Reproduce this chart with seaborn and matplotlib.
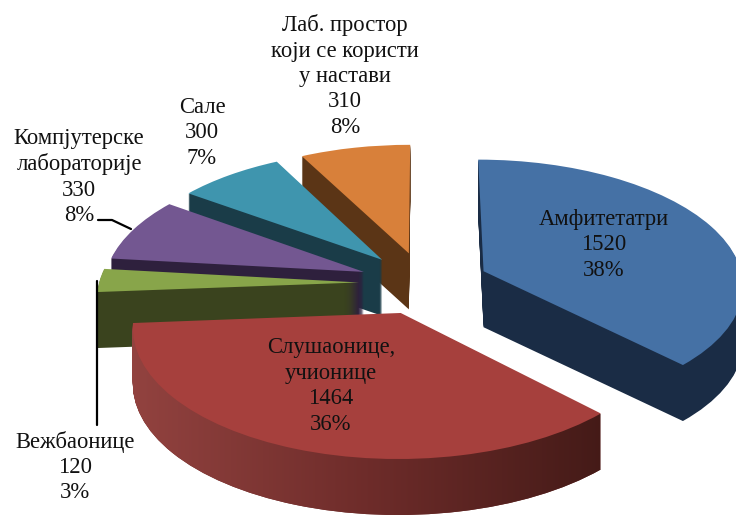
import matplotlib
matplotlib.use("Agg")
import numpy as np
import matplotlib.pyplot as plt
import seaborn as sns
from matplotlib.colors import LinearSegmentedColormap
from matplotlib.path import Path
from matplotlib.transforms import Affine2D, IdentityTransform, Transform

names = ["Амфитетатри", "Слушаонице,\nучионице", "Вежбаонице",
         "Компјутерске\nлабораторије", "Сале",
         "Лаб. простор\nкоји се користи\nу настави"]
values = [1520, 1464, 120, 330, 300, 310]
percents = [38, 36, 3, 8, 7, 8]

top_colors = ["#4571a5", "#a6403d", "#88a54a", "#735791", "#3f95ae", "#d8803a"]
side_colors = ["#1a2c45", "#6e2c2a", "#3a431e", "#2e203d", "#1a3c48", "#5b3516"]
draw_order = [4, 5, 3, 2, 1, 0]  # back slices first, red one on top

label_pos = [(604, 245), (331, 386), (75, 467), (79, 177), (202, 133), (345, 76)]
depth = 56


class Tilt(Transform):
    # flat pie disc -> tilted view, in image pixels
    input_dims = 2
    output_dims = 2
    is_separable = False
    has_inverse = False

    def transform_non_affine(self, values):
        pts = np.asarray(values, dtype=float)
        s = 1 / (1 + 0.1 * pts[:, 1])
        return np.column_stack([424 + 260 * pts[:, 0] * s, 283 - 125 * pts[:, 1] * s])


sns.set_theme(style="white")
plt.rcParams["font.family"] = ["Liberation Serif", "DejaVu Serif"]

fig = plt.figure(figsize=(7.36, 5.16), dpi=100)
ax = fig.add_axes([0, 0, 1, 1])
tilt = Tilt()


def draw_layer(offset, colors, extra):
    wedges, _ = ax.pie(values, explode=[0.25] * len(values), colors=colors, startangle=90,
                       counterclock=False, wedgeprops={"linewidth": 0})
    for i, w in enumerate(wedges):
        w.set_transform(tilt + Affine2D().translate(0, offset) + ax.transData)
        w.set_zorder(draw_order[i] + extra)
    return wedges


layers = []
for d in range(depth, 0, -1):
    layers.append(draw_layer(d, side_colors, 1 - d / (depth + 1) - 0.1))
draw_layer(0, top_colors, 0.95)

ax.set_aspect("auto")
ax.set_xlim(0, 736)
ax.set_ylim(516, 0)
ax.axis("off")

# shaded rim of the red slice
rim_cmap = LinearSegmentedColormap.from_list("rim", ["#934340", "#6e2c2a", "#431a17"])
rim = ax.imshow(np.linspace(0, 1, 256).reshape(1, -1), cmap=rim_cmap, aspect="auto",
                extent=(125, 610, 520, 320), zorder=draw_order[1] + 0.9)
rim_paths = [lay[1].get_transform().transform_path(lay[1].get_path()) for lay in layers]
rim.set_clip_path(Path.make_compound_path(*rim_paths), IdentityTransform())
ax.set_aspect("auto")
ax.set_xlim(0, 736)
ax.set_ylim(516, 0)

# leader lines
ax.plot([97, 97], [281, 425], color="black", lw=1.6, zorder=10)
ax.plot([98, 112, 131], [220, 220, 229], color="black", lw=1.6, zorder=10)

for name, val, pct, (x, y) in zip(names, values, percents, label_pos):
    ax.text(x, y, f"{name}\n{val}\n{pct}%", ha="center", va="center", fontsize=16.3,
            color="#111111", linespacing=1.28, zorder=20)

fig.savefig("out.png", dpi=100)
